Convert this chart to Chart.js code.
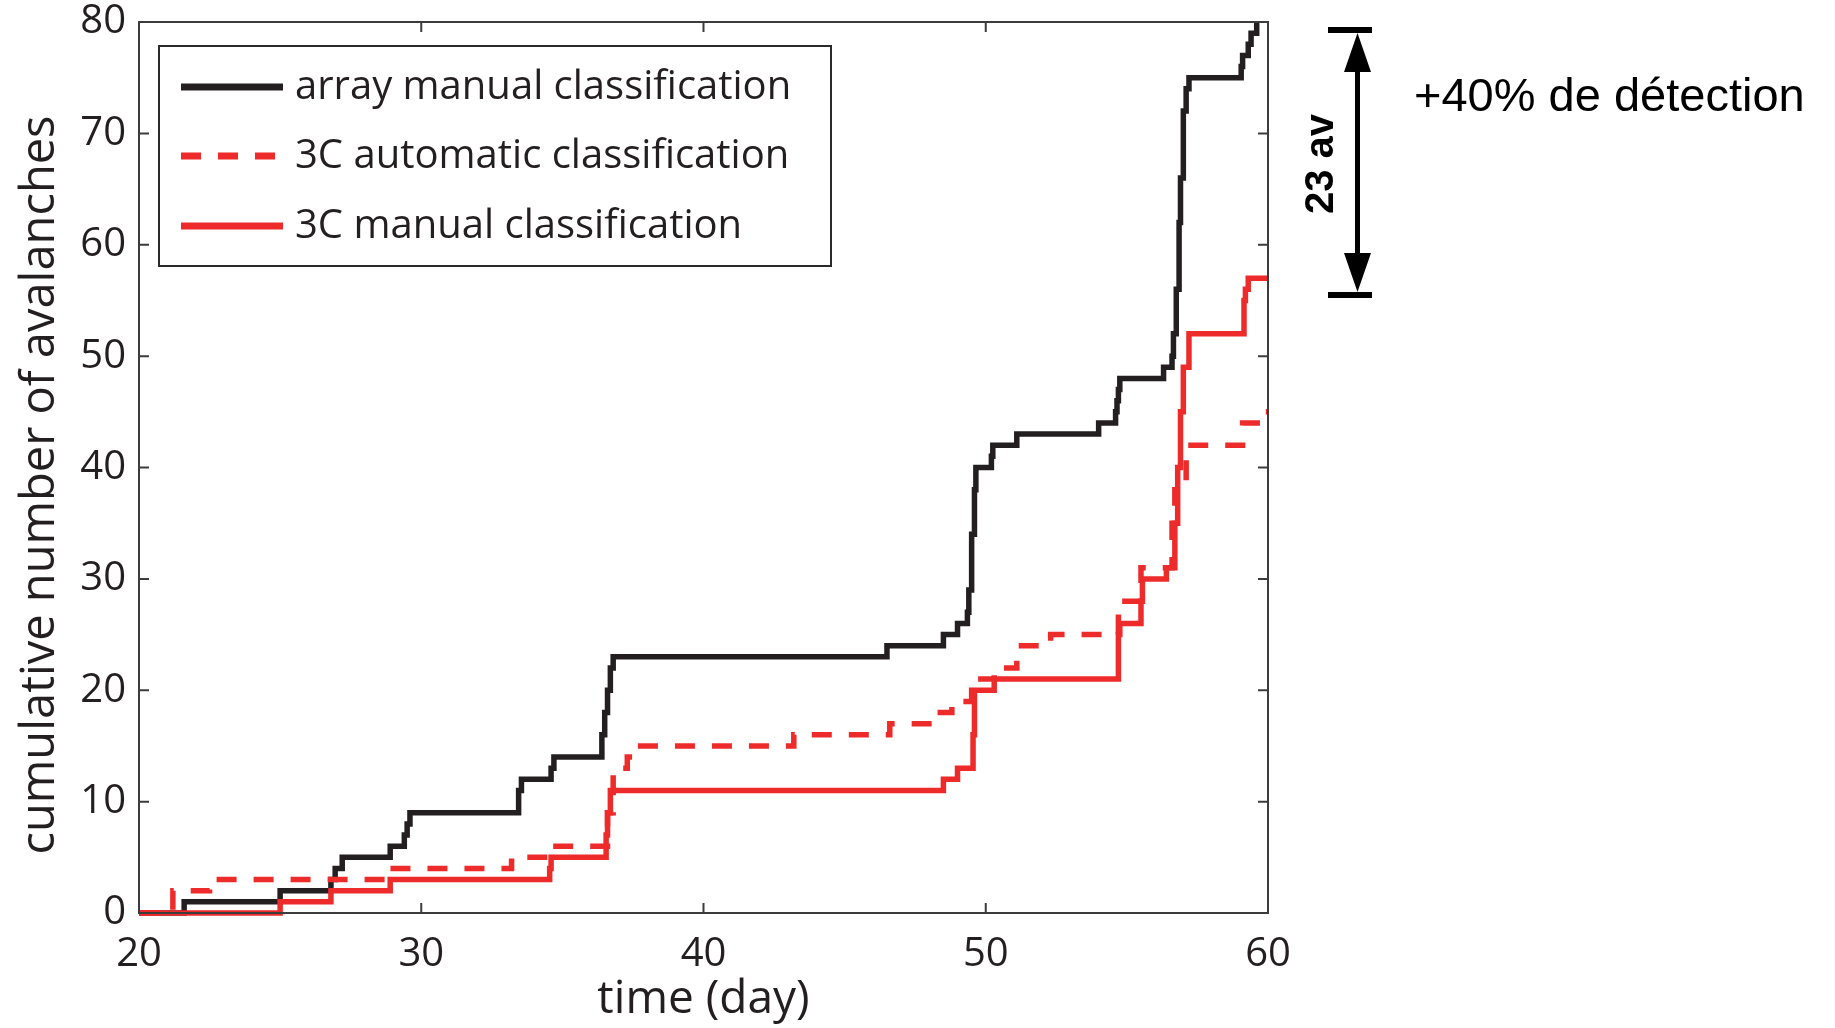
<!DOCTYPE html>
<html>
<head>
<meta charset="utf-8">
<script src="https://cdn.jsdelivr.net/npm/chart.js@4.4.1/dist/chart.umd.min.js"></script>
<style>
  body { margin: 0; background: #fff; }
  canvas { display: block; }
</style>
</head>
<body>
<canvas id="myChart" width="1835" height="1028"></canvas>
<script>
// day of each step and the cumulative count reached at that day
const arrayDays   = [20, 21.6, 25.0, 26.8, 26.95, 27.2, 28.9, 29.4, 29.5, 29.6, 33.45, 33.55, 34.6, 34.7, 36.4, 36.5, 36.6, 36.7, 36.8, 46.5, 48.5, 49.0, 49.35, 49.4, 49.5, 49.6, 49.65, 50.2, 50.25, 51.1, 54.0, 54.6, 54.65, 54.7, 54.75, 56.3, 56.6, 56.65, 56.75, 56.85, 56.9, 57.0, 57.1, 57.2, 59.05, 59.1, 59.3, 59.4, 59.6];
const arrayCounts = [0, 1, 2, 3, 4, 5, 6, 7, 8, 9, 11, 12, 13, 14, 16, 18, 20, 22, 23, 24, 25, 26, 27, 29, 34, 38, 40, 41, 42, 43, 44, 45, 46, 47, 48, 49, 50, 52, 56, 62, 66, 72, 74, 75, 76, 77, 78, 79, 80];

const autoDays   = [20, 21.2, 22.5, 28.8, 33.2, 34.6, 36.6, 36.8, 37.3, 37.5, 43.2, 46.6, 48.2, 48.8, 49.5, 49.6, 50.3, 51.1, 52.3, 54.7, 55.5, 56.6, 56.7, 57.1, 59.1, 59.75, 60];
const autoCounts = [0, 2, 3, 4, 5, 6, 9, 13, 14, 15, 16, 17, 18, 19, 20, 21, 22, 24, 25, 28, 31, 35, 38, 42, 44, 45, 45];

const manualDays   = [20, 25.0, 26.8, 28.9, 34.55, 34.6, 36.55, 36.6, 36.7, 48.5, 49.0, 49.55, 49.6, 50.3, 54.7, 54.75, 55.5, 55.55, 56.4, 56.7, 56.8, 56.9, 57.0, 57.2, 59.15, 59.2, 59.3, 60];
const manualCounts = [0, 1, 2, 3, 4, 5, 7, 9, 11, 12, 13, 16, 20, 21, 25, 26, 28, 30, 31, 35, 40, 45, 49, 52, 55, 56, 57, 57];

const seriesNames = ['array manual classification', '3C automatic classification', '3C manual classification'];
const xTicks = [20, 30, 40, 50, 60];
const yTicks = [0, 10, 20, 30, 40, 50, 60, 70, 80];

const BLACK = '#231f20';
const RED = '#ee2b2b';
const FONT = '"Open Sans", sans-serif';

function toPoints(days, counts) {
  return days.map((d, i) => ({x: d, y: counts[i]}));
}

// frame, inward ticks, y title, legend box and the side note
const decor = {
  id: 'decor',
  afterDatasetsDraw(chart) {
    const {ctx, chartArea: a, scales: {x, y}} = chart;
    ctx.save();
    ctx.strokeStyle = '#3c3c3c';
    ctx.lineWidth = 2;
    ctx.strokeRect(a.left, a.top, a.right - a.left, a.bottom - a.top);
    ctx.beginPath();
    xTicks.forEach(v => {
      const px = x.getPixelForValue(v);
      ctx.moveTo(px, a.bottom); ctx.lineTo(px, a.bottom - 10);
      ctx.moveTo(px, a.top); ctx.lineTo(px, a.top + 10);
    });
    yTicks.forEach(v => {
      const py = y.getPixelForValue(v);
      ctx.moveTo(a.left, py); ctx.lineTo(a.left + 10, py);
      ctx.moveTo(a.right, py); ctx.lineTo(a.right - 10, py);
    });
    ctx.stroke();

    // y axis title (sits a bit below the middle in the original)
    ctx.save();
    ctx.translate(41, 485);
    ctx.rotate(-Math.PI / 2);
    ctx.fillStyle = BLACK;
    ctx.font = '47px ' + FONT;
    ctx.textAlign = 'center';
    ctx.textBaseline = 'middle';
    ctx.fillText('cumulative number of avalanches', 0, 0);
    ctx.restore();

    // legend
    ctx.fillStyle = '#fff';
    ctx.fillRect(159, 46, 672, 220);
    ctx.strokeStyle = '#2a2a2a';
    ctx.strokeRect(159, 46, 672, 220);
    const rows = [87, 156, 226];
    chart.data.datasets.forEach((ds, i) => {
      ctx.beginPath();
      ctx.strokeStyle = ds.borderColor;
      ctx.lineWidth = 7;
      ctx.setLineDash(ds.borderDash || []);
      ctx.moveTo(181, rows[i]);
      ctx.lineTo(283, rows[i]);
      ctx.stroke();
      ctx.setLineDash([]);
      ctx.fillStyle = BLACK;
      ctx.font = '40px ' + FONT;
      ctx.textBaseline = 'middle';
      ctx.textAlign = 'left';
      ctx.fillText(ds.label, 295, rows[i] + 1);
    });

    // 23 av arrow
    ctx.fillStyle = '#000';
    ctx.fillRect(1328, 27, 44, 6);
    ctx.fillRect(1328, 292, 44, 6);
    ctx.fillRect(1355, 60, 5, 200);
    ctx.beginPath();
    ctx.moveTo(1357.5, 33); ctx.lineTo(1371, 72); ctx.lineTo(1344, 72); ctx.closePath();
    ctx.moveTo(1357.5, 292); ctx.lineTo(1371, 253); ctx.lineTo(1344, 253); ctx.closePath();
    ctx.fill();
    ctx.save();
    ctx.translate(1322, 164);
    ctx.rotate(-Math.PI / 2);
    ctx.font = 'bold 40px "Liberation Sans", Arial, sans-serif';
    ctx.textAlign = 'center';
    ctx.textBaseline = 'middle';
    ctx.fillText('23 av', 0, 0);
    ctx.restore();
    ctx.font = '47px "Liberation Sans", Arial, sans-serif';
    ctx.textAlign = 'left';
    ctx.textBaseline = 'middle';
    ctx.fillText('+40% de détection', 1414, 98);
    ctx.restore();
  }
};

const lineStyle = {
  showLine: true,
  stepped: true,
  pointRadius: 0,
  borderWidth: 5.5,
  fill: false,
  clip: false
};

const CHART = document.getElementById('myChart');
const myChart = new Chart(CHART, {
  type: 'scatter',
  data: {
    datasets: [
      Object.assign({label: seriesNames[0], data: toPoints(arrayDays, arrayCounts), borderColor: BLACK, order: 2}, lineStyle),
      Object.assign({label: seriesNames[1], data: toPoints(autoDays, autoCounts), borderColor: RED, borderDash: [20, 17], order: 1}, lineStyle),
      Object.assign({label: seriesNames[2], data: toPoints(manualDays, manualCounts), borderColor: RED, order: 0}, lineStyle)
    ]
  },
  options: {
    responsive: false,
    maintainAspectRatio: false,
    animation: false,
    devicePixelRatio: 1,
    layout: {padding: {top: 22, right: 567, left: 0, bottom: 0}},
    plugins: {legend: {display: false}, tooltip: {enabled: false}},
    scales: {
      x: {
        type: 'linear', min: 20, max: 60,
        afterFit: s => { s.height = 115; s.paddingLeft = 0; s.paddingRight = 0; },
        afterBuildTicks: s => { s.ticks = xTicks.map(v => ({value: v})); },
        grid: {display: false, drawTicks: false},
        border: {display: false},
        ticks: {color: BLACK, padding: 22, font: {family: FONT, size: 40, lineHeight: 1}},
        title: {display: true, text: 'time (day)', color: BLACK, padding: {top: 0, bottom: 5}, font: {family: FONT, size: 46, lineHeight: 1}}
      },
      y: {
        type: 'linear', min: 0, max: 80,
        afterFit: s => { s.width = 139; s.paddingTop = 0; s.paddingBottom = 0; },
        afterBuildTicks: s => { s.ticks = yTicks.map(v => ({value: v})); },
        grid: {display: false, drawTicks: false},
        border: {display: false},
        ticks: {color: BLACK, padding: 13, font: {family: FONT, size: 40, lineHeight: 1}},
        title: {display: false}
      }
    }
  },
  plugins: [decor]
});
</script>
</body>
</html>
